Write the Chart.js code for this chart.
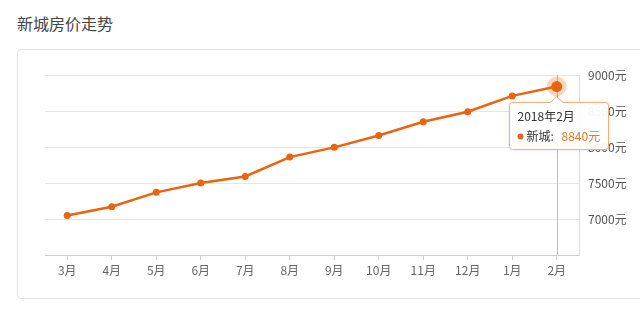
<!DOCTYPE html>
<html lang="zh">
<head>
  <meta charset="UTF-8" />
  <title>新城房价走势</title>
  <script src="https://cdn.jsdelivr.net/npm/chart.js"></script>
  <style>
    html, body { margin: 0; padding: 0; background: #fff; }
    body { width: 640px; height: 313px; position: relative; overflow: hidden;
           font-family: "Noto Sans CJK SC", "Noto Sans", sans-serif; }
    .title { position: absolute; left: 17px; top: 11px; font-size: 16px; color: #444; }
    .card { position: absolute; left: 17px; top: 49px; width: 640px; height: 248px;
            border: 1px solid #e3e3e3; border-radius: 4px; }
    #wrap { position: absolute; left: 0; top: 0; width: 640px; height: 313px; }
  </style>
</head>
<body>
  <div class="title">新城房价走势</div>
  <div class="card"></div>
  <div id="wrap"><canvas id="priceChart"></canvas></div>

  <script>
    // data
    const months = ['3月', '4月', '5月', '6月', '7月', '8月', '9月', '10月', '11月', '12月', '1月', '2月'];
    const periods = ['2017年3月', '2017年4月', '2017年5月', '2017年6月', '2017年7月', '2017年8月',
                     '2017年9月', '2017年10月', '2017年11月', '2017年12月', '2018年1月', '2018年2月'];
    const prices = [7050, 7170, 7370, 7500, 7590, 7860, 7995, 8160, 8350, 8490, 8710, 8840];
    const yMin = 6500, yMax = 9000, yStep = 500;
    const seriesName = '新城';
    const unit = '元';

    const orange = '#e8640f';
    const font = '"Noto Sans CJK SC", "Noto Sans", sans-serif';
    const active = prices.length - 1;

    // axis pointer, halo on the active point and the tooltip box
    const hoverPlugin = {
      id: 'hoverPlugin',
      beforeDatasetsDraw(chart) {
        const c = chart.ctx, area = chart.chartArea;
        const pt = chart.getDatasetMeta(0).data[active];
        c.save();
        c.strokeStyle = '#bdbdbd';
        c.lineWidth = 1;
        c.beginPath();
        c.moveTo(Math.round(pt.x) + 0.5, area.top);
        c.lineTo(Math.round(pt.x) + 0.5, area.bottom);
        c.stroke();
        c.fillStyle = 'rgba(232,100,15,0.25)';
        c.beginPath();
        c.arc(pt.x, pt.y, 10, 0, Math.PI * 2);
        c.fill();
        c.restore();
      },
      afterDraw(chart) {
        const c = chart.ctx;
        const pt = chart.getDatasetMeta(0).data[active];
        const w = 99, h = 47;
        const x = Math.round(pt.x - 48) + 0.5, y = Math.round(pt.y + 15) + 0.5;
        c.save();
        c.shadowColor = 'rgba(0,0,0,0.12)';
        c.shadowBlur = 4;
        c.fillStyle = 'rgba(255,255,255,0.95)';
        c.strokeStyle = '#efb27e';
        c.lineWidth = 1;
        c.beginPath();
        c.moveTo(x + 3, y);
        c.lineTo(pt.x - 6, y);
        c.lineTo(pt.x, y - 6);
        c.lineTo(pt.x + 6, y);
        c.lineTo(x + w - 3, y);
        c.arcTo(x + w, y, x + w, y + 3, 3);
        c.lineTo(x + w, y + h - 3);
        c.arcTo(x + w, y + h, x + w - 3, y + h, 3);
        c.lineTo(x + 3, y + h);
        c.arcTo(x, y + h, x, y + h - 3, 3);
        c.lineTo(x, y + 3);
        c.arcTo(x, y, x + 3, y, 3);
        c.closePath();
        c.fill();
        c.shadowColor = 'transparent';
        c.stroke();

        c.textBaseline = 'middle';
        c.font = '12px ' + font;
        c.fillStyle = '#333';
        c.fillText(periods[active], x + 8, y + 14);
        c.fillStyle = orange;
        c.beginPath();
        c.arc(x + 11, y + 34, 3, 0, Math.PI * 2);
        c.fill();
        c.fillStyle = '#333';
        c.fillText(seriesName + ':', x + 17, y + 34);
        c.fillStyle = '#e07b2c';
        c.fillText(prices[active] + unit, x + 52, y + 34);
        c.restore();
      }
    };

    new Chart(document.getElementById('priceChart'), {
      type: 'line',
      data: {
        labels: months,
        datasets: [{
          label: seriesName,
          data: prices,
          borderColor: orange,
          backgroundColor: orange,
          borderWidth: 2.5,
          tension: 0,
          pointRadius: ctx => ctx.dataIndex === active ? 5.5 : 3.5,
          pointBackgroundColor: orange,
          pointBorderWidth: 0
        }]
      },
      options: {
        responsive: true,
        maintainAspectRatio: false,
        animation: false,
        events: [],
        layout: { padding: { left: 45, top: 75, right: 0, bottom: 0 } },
        plugins: { legend: { display: false }, tooltip: { enabled: false } },
        scales: {
          x: {
            offset: true,
            afterFit: s => { s.height = 58; },
            grid: { offset: false, drawOnChartArea: false, tickLength: 5, color: '#d0d0d0' },
            border: { display: true, color: '#cfcfcf' },
            ticks: { color: '#666', font: { family: font, size: 12 }, padding: 3, maxRotation: 0, autoSkip: false }
          },
          y: {
            position: 'right',
            min: yMin,
            max: yMax,
            afterFit: s => { s.width = 61; },
            grid: { color: '#e6e6e6', drawTicks: false },
            border: { display: true, color: '#dcdcdc' },
            ticks: {
              stepSize: yStep,
              padding: 9,
              color: '#555',
              font: { family: font, size: 12 },
              callback: v => v === yMin ? '' : v + unit
            }
          }
        }
      },
      plugins: [hoverPlugin]
    });
  </script>
</body>
</html>
